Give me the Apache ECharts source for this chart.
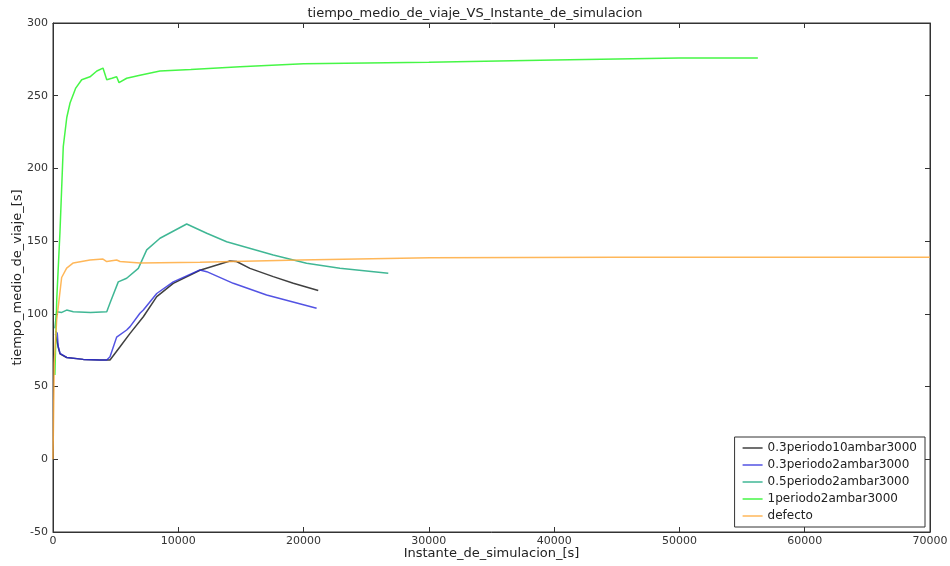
<!DOCTYPE html>
<html>
<head>
<meta charset="utf-8">
<script src="https://cdn.jsdelivr.net/npm/echarts@6/dist/echarts.min.js"></script>
<style>html,body{margin:0;padding:0;background:#fff}#c{width:950px;height:566px}</style>
</head>
<body>
<div id="c"></div>
<script>
var seriesNames = ['0.3periodo10ambar3000','0.3periodo2ambar3000','0.5periodo2ambar3000','1periodo2ambar3000','defecto'];
var xTicks = [0,10000,20000,30000,40000,50000,60000,70000];
var yTicks = [-50,0,50,100,150,200,250,300];

var black = [[200,86],[340,86],[420,77],[560,72.5],[1090,70],[2420,68.7],[3750,68.3],[4550,68.3],[5350,77.4],[6150,86.6],[7210,98],[8280,111.8],[9600,121],[11730,130],[14120,136.4],[14650,136],[15720,131.3],[17580,125.6],[19180,121],[21170,116]];
var blue = [[200,88],[340,86.6],[420,77.4],[560,72.9],[1090,70],[2420,68.7],[3750,68.3],[4290,68.3],[4550,70.5],[5080,84],[5880,88.9],[6150,91.2],[6940,100.4],[7210,102.6],[8280,114],[9600,122],[11730,130.2],[12270,129],[14390,121],[17050,113],[21040,103.8]];
var teal = [[150,90],[295,101.5],[700,101],[1090,102.6],[1620,101.5],[3000,101],[4290,101.5],[4550,107.5],[5210,122],[5880,124.5],[6810,131.3],[7480,144],[8540,152],[10670,161.8],[12270,155.4],[13860,149.6],[17580,140.5],[20240,134.8],[22900,131.3],[26760,127.9]];
var green = [[150,58],[300,110],[560,157],[820,215],[1100,235],[1360,245],[1800,255],[2290,261],[2950,263],[3500,267],[3990,269],[4290,261],[4700,262],[5080,263],[5270,259],[5880,262],[6940,264],[8540,267],[11000,268],[14920,270],[20000,272],[30000,273],[40000,274.5],[50000,276],[56260,276]];
var orange = [[0,0],[100,66],[295,96],[420,105],[690,125],[1090,131.5],[1620,135],[2950,137],[3990,137.7],[4290,136],[5080,137],[5350,136],[6940,135],[11730,135.5],[19710,137],[30080,138.5],[45000,139],[70000,139]];

var colors = ['rgba(30,30,30,0.85)','rgba(40,40,220,0.8)','rgba(30,170,130,0.85)','rgba(50,245,50,0.9)','rgba(255,170,60,0.85)'];
var dataSets = [black, blue, teal, green, orange];

var font = 'DejaVu Sans';
var chart = echarts.init(document.getElementById('c'));
var series = dataSets.map(function(d, i){
  return {name: seriesNames[i], type: 'line', data: d, showSymbol: false, symbol: 'none',
    lineStyle: {width: 1.5, color: colors[i]}, itemStyle: {color: colors[i]}, animation: false};
});
var axisCommon = {
  type: 'value', splitLine: {show: false},
  axisTick: {inside: true, length: 5, lineStyle: {color: '#333'}},
  axisLine: {onZero: false, lineStyle: {color: '#333', width: 1}}
};
chart.setOption({
  animation: false,
  backgroundColor: '#fff',
  title: {text: 'tiempo_medio_de_viaje_VS_Instante_de_simulacion', left: 'center', top: 2,
    textStyle: {fontFamily: font, fontSize: 13, fontWeight: 'normal', color: '#222'}},
  grid: {left: 53, right: 20, top: 23, bottom: 34, show: true, borderColor: '#333', borderWidth: 1,
    containLabel: false, outerBoundsMode: 'none'},
  legend: {
    orient: 'vertical', right: 25, bottom: 39, data: seriesNames,
    icon: 'rect', itemWidth: 20, itemHeight: 1.5, itemGap: 5,
    borderColor: '#333', borderWidth: 1, padding: [5, 8, 5, 8], backgroundColor: '#fff',
    textStyle: {fontFamily: font, fontSize: 12, color: '#222'}
  },
  xAxis: [
    Object.assign({}, axisCommon, {min: xTicks[0], max: xTicks[xTicks.length-1], interval: 10000,
      name: 'Instante_de_simulacion_[s]', nameLocation: 'middle', nameGap: 15, nameMoveOverlap: false,
      nameTextStyle: {fontFamily: font, fontSize: 13, color: '#222'},
      axisLabel: {fontFamily: font, fontSize: 11, color: '#333', margin: 4, formatter: function(v){return String(v);}}}),
    Object.assign({}, axisCommon, {position: 'top', min: xTicks[0], max: xTicks[xTicks.length-1], interval: 10000,
      axisLabel: {show: false}})
  ],
  yAxis: [
    Object.assign({}, axisCommon, {min: yTicks[0], max: yTicks[yTicks.length-1], interval: 50,
      name: 'tiempo_medio_de_viaje_[s]', nameLocation: 'middle', nameGap: 29, nameMoveOverlap: false,
      nameTextStyle: {fontFamily: font, fontSize: 13, color: '#222'},
      axisLabel: {fontFamily: font, fontSize: 11, color: '#333', margin: 5, formatter: function(v){return String(v);}}}),
    Object.assign({}, axisCommon, {position: 'right', min: yTicks[0], max: yTicks[yTicks.length-1], interval: 50,
      axisLabel: {show: false}})
  ],
  series: series
});
</script>
</body>
</html>
